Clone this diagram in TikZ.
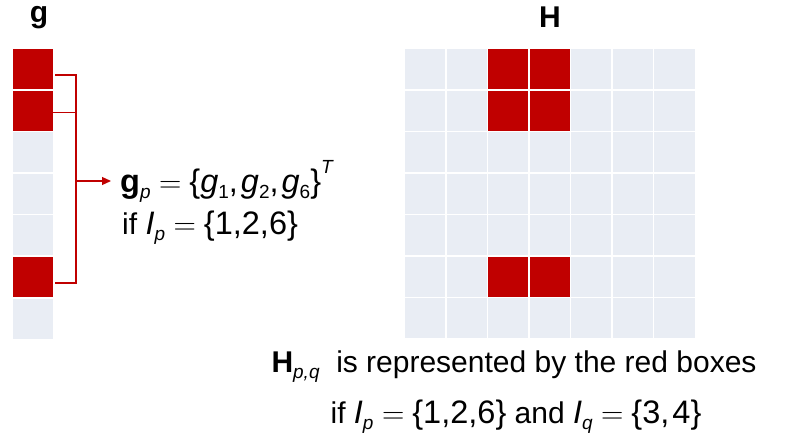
\RequirePackage{fix-cm}
\documentclass[tikz,border=0pt]{standalone}
\usepackage{fontspec}
\setmainfont{Liberation Sans}
\usetikzlibrary{arrows.meta,calc}
\definecolor{cred}{HTML}{C00000}
\definecolor{cblue}{HTML}{E9EDF4}
\newcommand{\mth}[1]{{\fontsize{32.5}{40}\selectfont #1}}
\newcommand{\sbs}[1]{\raisebox{-0.22em}{\fontsize{19}{19}\selectfont #1}}
\newcommand{\sps}[1]{\raisebox{0.62em}{\fontsize{19}{19}\selectfont #1}}
\newcommand{\eqs}{\kern8.5pt{\fontsize{31}{36}\selectfont$=$}\kern8pt}
\begin{document}
\begin{tikzpicture}[x=1pt,y=-1pt,
  cellbox/.style={inner sep=0pt, outer sep=0pt, draw=none, anchor=north west,
    minimum width=40.2pt, minimum height=40pt, fill=cblue},
  redbox/.style={cellbox, fill=cred},
  bracket/.style={draw=cred, line width=1.3pt},
  lbl/.style={inner sep=0pt, font=\fontsize{30}{36}\selectfont},
  ttl/.style={inner sep=0pt, font=\fontsize{30}{36}\selectfont\bfseries}]
\useasboundingbox (0,0) rectangle (793,444);
% g vector
\foreach \i in {1,...,7} {
  \pgfmathsetmacro{\yy}{49+41.6*(\i-1)}
  \node[cellbox] (g\i) at (13,\yy) {};
}
\foreach \i in {1,2,6} {
  \pgfmathsetmacro{\yy}{49+41.6*(\i-1)}
  \node[redbox] (r\i) at (13,\yy) {};
}
% H matrix
\foreach \i in {1,...,7} {
  \foreach \j in {1,...,7} {
    \pgfmathsetmacro{\yy}{49+41.57*(\i-1)}
    \pgfmathsetmacro{\xx}{405+41.57*(\j-1)}
    \node[cellbox] (h\i\j) at (\xx,\yy) {};
  }
}
\foreach \i in {1,2,6} {
  \foreach \j in {3,4} {
    \pgfmathsetmacro{\yy}{49+41.57*(\i-1)}
    \pgfmathsetmacro{\xx}{405+41.57*(\j-1)}
    \node[redbox] (hr\i\j) at (\xx,\yy) {};
  }
}
% titles
\node[ttl, anchor=base, text height=1.05ex] (gt) at (39,22.5) {g};
\node[ttl, anchor=base] (ht) at (550,27.5) {H};
% labels
\node[lbl, anchor=base west] (gp) at (120,192)
  {\mth{\textbf{g}}\sbs{\itshape p}\eqs\mth{\{\textit{g}}\sbs{1}\mth{,}\kern3pt\mth{\textit{g}}\sbs{2}\mth{,}\kern3pt\mth{\textit{g}}\sbs{6}\mth{\}}\sps{\itshape T}};
\node[lbl, anchor=base west] (ip) at (122,234)
  {if \mth{\textit{I}}\sbs{\itshape p}\eqs\mth{\{1,2,6\}}};
\node[lbl, anchor=base] (hpq) at (514,372)
  {\textbf{H}\sbs{\itshape p,q}\ \ is represented by the red boxes};
\node[lbl, anchor=base] (cond) at (516,423)
  {if \mth{\textit{I}}\sbs{\itshape p}\eqs\mth{\{1,2,6\}} and \mth{\textit{I}}\sbs{\itshape q}\eqs\mth{\{3,\kern3pt4\}}};
% bracket
\coordinate (b1) at ($(r1.east)+(2,6)$);
\coordinate (b2) at ($(r2.east)+(0,2)$);
\coordinate (b6) at ($(r6.east)+(2,6)$);
\coordinate (vx) at (76,181);
\draw[bracket] (b1) -- (b1 -| vx) -- (b6 -| vx) -- (b6);
\draw[bracket] (b2) -- (b2 -| vx);
\draw[bracket, -{Triangle[length=9pt,width=8pt]}] (vx) -- ($(gp.west |- vx)+(-9,0)$);
\end{tikzpicture}
\end{document}
